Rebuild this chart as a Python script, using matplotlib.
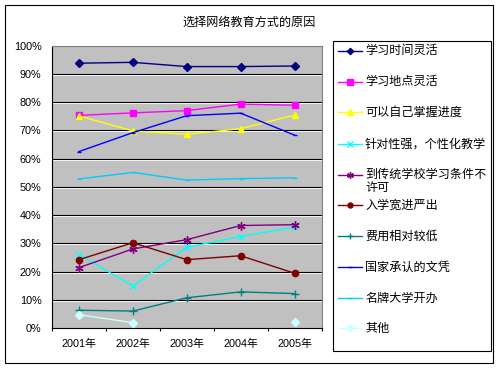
import numpy as np
import matplotlib
matplotlib.use("Agg")
import matplotlib.pyplot as plt
import matplotlib.patheffects as pe
from matplotlib.lines import Line2D
from matplotlib.patches import Rectangle

title = "选择网络教育方式的原因"
years = ["2001年", "2002年", "2003年", "2004年", "2005年"]
series_names = ["学习时间灵活", "学习地点灵活", "可以自己掌握进度", "针对性强，个性化教学",
                "到传统学校学习条件不\n许可", "入学宽进严出", "费用相对较低", "国家承认的文凭",
                "名牌大学开办", "其他"]
s1 = [93.8, 94.1, 92.6, 92.6, 92.8]
s2 = [75.3, 76.2, 77.0, 79.3, 78.9]
s3 = [75.1, 69.8, 68.6, 70.6, 75.4]
s4 = [26.0, 14.9, 28.6, 32.4, 35.8]
s5 = [21.4, 28.0, 31.3, 36.3, 36.6]
s6 = [24.2, 30.2, 24.2, 25.6, 19.4]
s7 = [6.3, 6.0, 10.7, 12.8, 12.2]
s8 = [62.5, 69.2, 75.2, 76.1, 68.3]
s9 = [52.8, 55.1, 52.4, 52.9, 53.2]
s10 = [4.7, 1.9, np.nan, np.nan, 2.2]
all_series = [s1, s2, s3, s4, s5, s6, s7, s8, s9, s10]
yticks = [0, 10, 20, 30, 40, 50, 60, 70, 80, 90, 100]

colors = ["#000080", "#FF00FF", "#FFFF00", "#00FFFF", "#800080",
          "#800000", "#008080", "#0000FF", "#00CCFF", "#CCFFFF"]
markers = ["D", "s", "^", "x", (6, 2, 0), "o", "+", "_", "_", "D"]
msizes = [4.0, 5, 5, 5, 6, 4.5, 6, 3, 3, 4.0]

cjk = ["Noto Sans CJK SC", "DejaVu Sans"]
num = ["Liberation Sans", "Noto Sans CJK SC"]

fig = plt.figure(figsize=(5.0, 3.69), dpi=100)
ax = fig.add_axes([0.104, 0.1111, 0.539, 0.7651])
ax.set_facecolor("#C0C0C0")

x = np.arange(len(years))
for v in yticks[1:-1]:
    ax.axhline(v, color="black", lw=0.8, zorder=1,
               path_effects=[pe.SimpleLineShadow(offset=(0, -0.8), shadow_color="white", alpha=1.0),
                             pe.Normal()])

for vals, c, m, ms in zip(all_series, colors, markers, msizes):
    ax.plot(x, vals, color=c, lw=1.0, marker=m, ms=ms, mew=1.0,
            markerfacecolor=c, markeredgecolor=c, zorder=3, clip_on=False)

ax.set_xlim(-0.5, len(years) - 0.5)
ax.set_ylim(0, 100)
ax.set_yticks(yticks)
ax.set_yticklabels([f"{v}%" for v in yticks], fontfamily=num, fontsize=7.8)
ax.tick_params(axis="y", length=0, pad=7.5)
ax.set_xticks(x)
ax.set_xticklabels(years, fontfamily=num, fontsize=7.8)
ax.set_xticks(np.arange(-0.5, len(years)), minor=True)
ax.tick_params(axis="x", which="major", length=0, pad=8)
ax.tick_params(axis="x", which="minor", length=2.5, direction="out", color="black", width=0.8)
for s in ["top", "right"]:
    ax.spines[s].set_color("#808080")
    ax.spines[s].set_linewidth(0.8)
for s in ["left", "bottom"]:
    ax.spines[s].set_color("black")
    ax.spines[s].set_linewidth(0.8)

fig.text(0.498, 0.9385, title, ha="center", va="center", fontfamily=cjk, fontsize=8.7)

# outer chart border
fig.add_artist(Rectangle((0.0106, 0.0154), 0.976, 0.9702, transform=fig.transFigure,
                         fill=False, edgecolor="black", lw=0.8))

# legend box
lx0, lx1, ly0, ly1 = 0.6654, 0.982, 0.0496, 0.8889
fig.add_artist(Rectangle((lx0, ly0), lx1 - lx0, ly1 - ly0, transform=fig.transFigure,
                         fill=False, edgecolor="black", lw=0.8))
entry_px = [50.7, 81.7, 112.3, 144.0, 175.0, 205.0, 236.0, 267.0, 298.0, 328.0]
W, H = 500.0, 369.0
for name, c, m, ms, ypx in zip(series_names, colors, markers, msizes, entry_px):
    yf = (H - ypx) / H
    fig.add_artist(Line2D([337.7 / W, 361.7 / W], [yf, yf], transform=fig.transFigure,
                          color=c, lw=1.0))
    fig.add_artist(Line2D([349.7 / W], [yf], transform=fig.transFigure, color=c,
                          marker=m, ms=ms * 0.8, mew=1.0, markerfacecolor=c, markeredgecolor=c))
    if "\n" in name:
        fig.text(365 / W, (H - ypx + 7) / H, name, ha="left", va="top",
                 fontfamily=cjk, fontsize=8.7, linespacing=1.05)
    else:
        fig.text(365 / W, yf, name, ha="left", va="center",
                 fontfamily=cjk, fontsize=8.7)

fig.savefig("out.png", dpi=100)
